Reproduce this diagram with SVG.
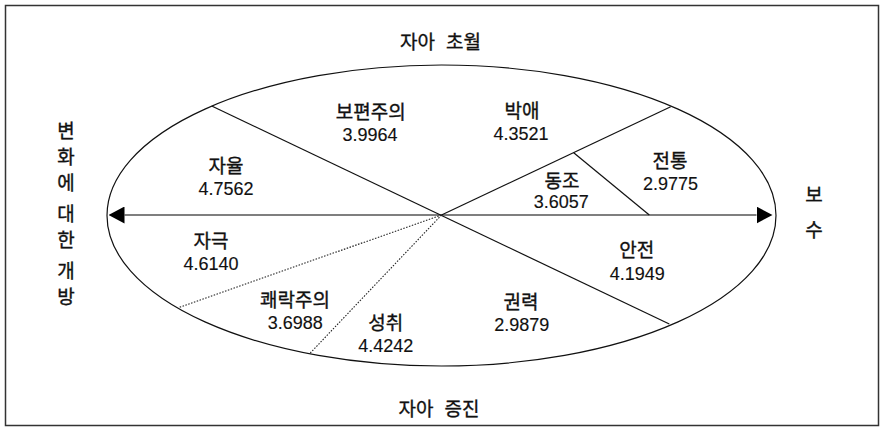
<svg xmlns="http://www.w3.org/2000/svg" width="883" height="429" viewBox="0 0 883 429">
  <style>
    .ko { font-family: "Noto Sans CJK KR", "Noto Sans", sans-serif; font-size: 19px; fill: #111; stroke: #111; stroke-width: 0.35; text-anchor: middle; }
    .num { font-family: "Liberation Sans", Arial, sans-serif; font-size: 18px; fill: #111; stroke: #111; stroke-width: 0.15; text-anchor: middle; }
    .solid { fill: none; stroke: #111; stroke-width: 1.2; }
    .dot { fill: none; stroke: #222; stroke-width: 1.1; stroke-dasharray: 1.5 1.5; }
    .axis { fill: none; stroke: #555; stroke-width: 1.6; }
  </style>
  <defs>
    <marker id="ah" viewBox="0 0 16 17" refX="0" refY="8.5" markerWidth="16" markerHeight="17" markerUnits="userSpaceOnUse" orient="auto-start-reverse">
      <path d="M0,0 L16,8.5 L0,17 z" fill="#000"/>
    </marker>
  </defs>
  <rect x="5.5" y="5.5" width="873" height="420" fill="#fff" stroke="#333" stroke-width="1.5"/>

  <g id="ellipse">
    <ellipse class="solid" cx="441.5" cy="215.5" rx="334.5" ry="150.5"/>
  </g>

  <g id="connectors">
    <line class="axis" x1="124.5" y1="215" x2="756.5" y2="215" marker-start="url(#ah)" marker-end="url(#ah)"/>
    <line class="solid" x1="211.7" y1="106" x2="669.3" y2="324"/>
    <line class="solid" x1="441.5" y1="215" x2="670.7" y2="106.7"/>
    <line class="solid" x1="573.7" y1="152.7" x2="649.3" y2="215"/>
    <line class="dot" x1="441.5" y1="215" x2="179.3" y2="307.3"/>
    <line class="dot" x1="441.5" y1="215" x2="310" y2="353.3"/>
  </g>

  <g id="top-title"><text class="ko" x="440.5" y="49" word-spacing="7">자아 초월</text></g>
  <g id="bottom-title"><text class="ko" x="439" y="415.5" word-spacing="7">자아 증진</text></g>
  <g id="left-title">
    <text class="ko" x="66" y="138">변</text>
    <text class="ko" x="66" y="164">화</text>
    <text class="ko" x="66" y="190">에</text>
    <text class="ko" x="66" y="221">대</text>
    <text class="ko" x="66" y="247">한</text>
    <text class="ko" x="66" y="278">개</text>
    <text class="ko" x="66" y="304">방</text>
  </g>
  <g id="right-title">
    <text class="ko" x="814" y="202">보</text>
    <text class="ko" x="814" y="237">수</text>
  </g>

  <g id="universalism"><text class="ko" x="370.8" y="119">보편주의</text><text class="num" x="370" y="141">3.9964</text></g>
  <g id="benevolence"><text class="ko" x="522" y="117.5">박애</text><text class="num" x="521" y="140">4.3521</text></g>
  <g id="self-direction"><text class="ko" x="226" y="172.5">자율</text><text class="num" x="226" y="195">4.7562</text></g>
  <g id="tradition"><text class="ko" x="670" y="167.5">전통</text><text class="num" x="670.5" y="190">2.9775</text></g>
  <g id="conformity"><text class="ko" x="562" y="187.5">동조</text><text class="num" x="561.3" y="208.3">3.6057</text></g>
  <g id="stimulation"><text class="ko" x="211" y="247.5">자극</text><text class="num" x="211" y="270">4.6140</text></g>
  <g id="security"><text class="ko" x="636.7" y="256.5">안전</text><text class="num" x="637.2" y="280">4.1949</text></g>
  <g id="hedonism"><text class="ko" x="295" y="306.5">쾌락주의</text><text class="num" x="295.3" y="329.3">3.6988</text></g>
  <g id="power"><text class="ko" x="521" y="309">권력</text><text class="num" x="521.7" y="331">2.9879</text></g>
  <g id="achievement"><text class="ko" x="385.8" y="330">성취</text><text class="num" x="385.8" y="352.3">4.4242</text></g>
</svg>
